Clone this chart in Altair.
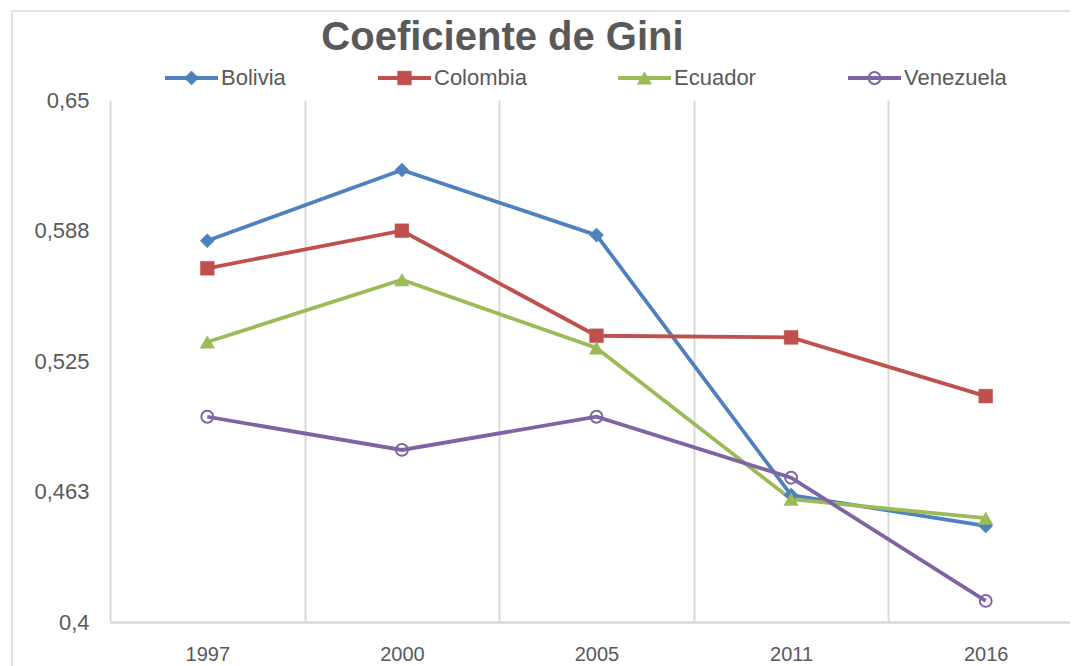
import altair as alt
import pandas as pd

YEARS = ["1997", "2000", "2005", "2011", "2016"]
SERIES = ["Bolivia", "Colombia", "Ecuador", "Venezuela"]
BOLIVIA = [0.5826, 0.6165, 0.5853, 0.4608, 0.4460]
COLOMBIA = [0.5694, 0.5874, 0.5371, 0.5363, 0.5082]
ECUADOR = [0.5341, 0.5639, 0.5312, 0.4588, 0.4497]
VENEZUELA = [0.4983, 0.4824, 0.4983, 0.4691, 0.4101]
Y_TICKS = [0.4, 0.4625, 0.525, 0.5875, 0.65]
Y_LABELS = ["0,4", "0,463", "0,525", "0,588", "0,65"]
TITLE = "Coeficiente de Gini"

COLORS = ["#4F81BD", "#C0504D", "#9BBB59", "#8064A2"]
FILLS = ["#4F81BD", "#C0504D", "#9BBB59", "transparent"]
SHAPES = ["diamond", "square", "triangle-up", "circle"]
SIZES = [200, 190, 210, 140]

FONT = "Liberation Sans"
GREY = "#595959"
LIGHT = "#D9D9D9"

W, H = 960, 522
X_RANGE = 973
LW = 3.8

values = [BOLIVIA, COLOMBIA, ECUADOR, VENEZUELA]
rows = []
for s, vals in zip(SERIES, values):
    for y, v in zip(YEARS, vals):
        rows.append({"year": y, "series": s, "gini": v})
df = pd.DataFrame(rows)

x_enc = alt.X(
    "year:N",
    sort=YEARS,
    bandPosition=0.5,
    scale=alt.Scale(type="band", domain=YEARS, range=[0, X_RANGE], paddingInner=0, paddingOuter=0),
    axis=alt.Axis(
        title=None,
        labelAngle=0,
        labelFontSize=20,
        labelColor=GREY,
        labelPadding=22,
        ticks=False,
        domainColor=LIGHT,
        domainWidth=2.5,
        grid=True,
        gridColor=LIGHT,
        gridWidth=2,
        tickBand="extent",
    ),
)

label_expr = "[" + ",".join(f"'{l}'" for l in Y_LABELS) + "][indexof([" + ",".join(str(t) for t in Y_TICKS) + "], datum.value)]"

y_enc = alt.Y(
    "gini:Q",
    scale=alt.Scale(domain=[0.4, 0.65], nice=False, zero=False),
    axis=alt.Axis(
        title=None,
        values=Y_TICKS,
        labelExpr=label_expr,
        labelFontSize=22,
        labelColor=GREY,
        labelPadding=21,
        ticks=False,
        domain=False,
        grid=False,
    ),
)

base = alt.Chart(df)

lines = base.mark_line(strokeWidth=LW).encode(
    x=x_enc,
    y=y_enc,
    color=alt.Color("series:N", scale=alt.Scale(domain=SERIES, range=COLORS), legend=None),
    detail="series:N",
)

frame_top = alt.Chart(pd.DataFrame({"b": [1]})).mark_rule(color=LIGHT, strokeWidth=1.5).encode(
    x=alt.value(-98), x2=alt.value(1200), y=alt.value(-89)
)
frame_left = alt.Chart(pd.DataFrame({"b": [1]})).mark_rule(color=LIGHT, strokeWidth=1.5).encode(
    x=alt.value(-98), y=alt.value(-89), y2=alt.value(H + 44)
)

layers = [frame_top, frame_left, lines]
for s, c, f, sh, sz in zip(SERIES, COLORS, FILLS, SHAPES, SIZES):
    layers.append(
        alt.Chart(df[df["series"] == s]).mark_point(
            shape=sh, filled=True, fill=f, stroke=c, strokeWidth=2 if sh == "circle" else 0.5,
            size=sz, opacity=1,
        ).encode(x=x_enc, y=y_enc)
    )

LEG_X = [55, 268, 508, 738]
LEG_LEN = 53
LEG_Y = -22
for s, c, f, sh, sz, lx in zip(SERIES, COLORS, FILLS, SHAPES, SIZES, LEG_X):
    one = alt.Chart(pd.DataFrame({"series": [s]}))
    layers.append(
        one.mark_rule(strokeWidth=LW, color=c).encode(
            x=alt.value(lx), x2=alt.value(lx + LEG_LEN), y=alt.value(LEG_Y)
        )
    )
    layers.append(
        one.mark_point(
            shape=sh, filled=True, fill=f, stroke=c, strokeWidth=2 if sh == "circle" else 0.5,
            size=sz, opacity=1,
        ).encode(x=alt.value(lx + LEG_LEN / 2), y=alt.value(LEG_Y))
    )
    layers.append(
        one.mark_text(align="left", baseline="middle", fontSize=22, color=GREY, font=FONT).encode(
            x=alt.value(lx + LEG_LEN + 3), y=alt.value(LEG_Y), text="series:N"
        )
    )

title = alt.Chart(pd.DataFrame({"t": [TITLE]})).mark_text(
    align="center", baseline="middle", fontSize=40, fontWeight="bold", color=GREY, font=FONT
).encode(x=alt.value(392.5), y=alt.value(-62), text="t:N")
layers.append(title)

chart = alt.layer(*layers).properties(
    width=W,
    height=H,
    autosize=alt.AutoSizeParams(type="none"),
    padding={"left": 102, "top": 92, "right": 0, "bottom": 44},
).configure(font=FONT, background="transparent").configure_view(strokeWidth=0)

chart.save("out.html", embed_options={"renderer": "svg", "actions": False})
